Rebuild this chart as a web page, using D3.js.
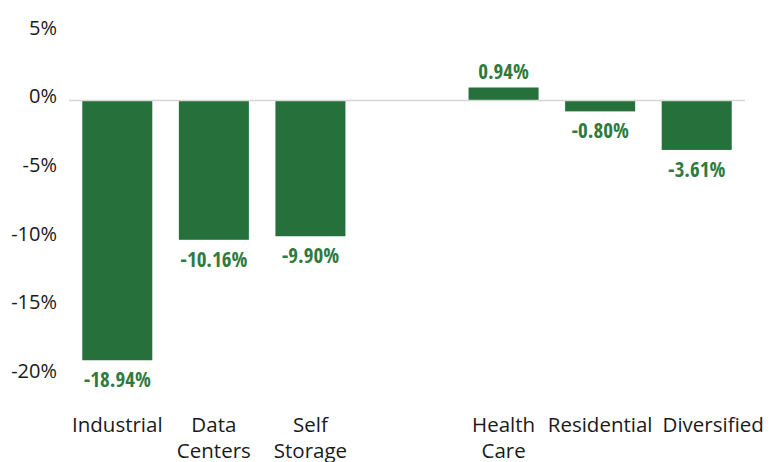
<!DOCTYPE html>
<html>
<head>
<meta charset="utf-8">
<script src="https://cdn.jsdelivr.net/npm/d3@7"></script>
<style>
  body { margin: 0; background: #fff; }
  text { font-family: "Open Sans", sans-serif; }
</style>
</head>
<body>
<svg id="chart" width="780" height="462"></svg>
<script>
let width = 780,
  height = 462

let categories = ["Industrial", "Data Centers", "Self Storage", "", "Health Care", "Residential", "Diversified"]
let values = [-18.94, -10.16, -9.90, null, 0.94, -0.80, -3.61]
let ticks = [5, 0, -5, -10, -15, -20]

let data = categories.map((c, i) => ({ name: c, value: values[i] }))

let x = d3.scaleBand()
  .domain(categories)
  .range([69, 745])
  .paddingInner(0.275)
  .paddingOuter(0.1375)

let y = d3.scaleLinear()
  .domain([-20, 5])
  .range([374.8, 31.8])

let svg = d3.select("#chart")

// y tick labels
svg.append("g")
  .selectAll("text")
  .data(ticks).enter()
  .append("text")
  .attr("x", 57)
  .attr("y", d => y(d) - 4)
  .attr("dy", "0.35em")
  .attr("text-anchor", "end")
  .attr("font-size", 20)
  .attr("fill", "#1a1a1a")
  .text(d => d + "%")

let bars = data.filter(d => d.value !== null)

svg.append("g")
  .selectAll("rect")
  .data(bars).enter()
  .append("rect")
  .attr("x", d => x(d.name))
  .attr("width", x.bandwidth())
  .attr("y", d => y(Math.max(0, d.value)))
  .attr("height", d => Math.abs(y(d.value) - y(0)))
  .attr("fill", "#26703b")

// zero line
svg.append("line")
  .attr("x1", 69)
  .attr("x2", 745)
  .attr("y1", y(0))
  .attr("y2", y(0))
  .attr("stroke", "#d6d6d6")
  .attr("stroke-width", 1.5)

// value labels
svg.append("g")
  .selectAll("text")
  .data(bars).enter()
  .append("text")
  .attr("x", d => x(d.name) + x.bandwidth() / 2)
  .attr("y", d => d.value >= 0 ? y(d.value) - 9 : y(d.value) + 27)
  .attr("text-anchor", "middle")
  .attr("font-size", 21)
  .attr("font-weight", "bold")
  .style("font-family", "'Open Sans Condensed', 'Liberation Sans Narrow', 'DejaVu Sans Condensed', sans-serif")
  .style("font-stretch", "condensed")
  .attr("fill", "#2e7b3f")
  .text(d => d.value.toFixed(2) + "%")

// category labels
let cats = svg.append("g")
  .selectAll("text")
  .data(data.filter(d => d.name !== "")).enter()
  .append("text")
  .attr("text-anchor", "middle")
  .attr("font-size", 20.5)
  .attr("fill", "#1a1a1a")

cats.each(function(d) {
  let words = d.name.split(" ")
  let cx = x(d.name) + x.bandwidth() / 2
  d3.select(this).selectAll("tspan")
    .data(words).enter()
    .append("tspan")
    .attr("x", cx)
    .attr("y", (w, i) => 432 + i * 26)
    .text(w => w)
})

// nudge labels right when they would run into the previous one
let prevRight = -Infinity
cats.each(function() {
  let b = this.getBBox()
  if (b.x < prevRight + 10) {
    let shift = prevRight + 10 - b.x
    d3.select(this).attr("transform", `translate(${shift},0)`)
    prevRight = b.x + b.width + shift
  } else {
    prevRight = b.x + b.width
  }
})
</script>
</body>
</html>
